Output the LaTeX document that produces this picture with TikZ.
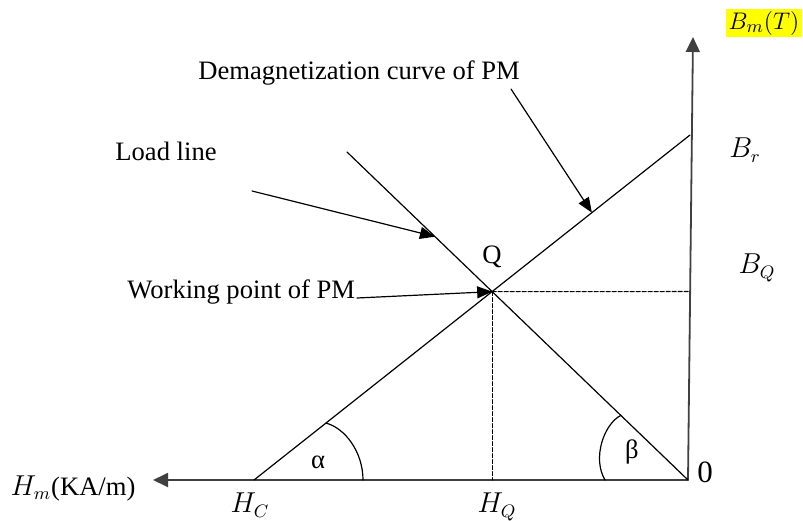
\documentclass[tikz,border=0pt]{standalone}
\usepackage{fontspec}
\setmainfont{Liberation Serif}
\usetikzlibrary{arrows.meta,calc}
\definecolor{hilite}{HTML}{FFFF00}
\definecolor{axisgray}{HTML}{404040}
\tikzset{
every picture/.style={line cap=round,line join=round},
axis line/.style={
  draw=axisgray,
  line width=0.9pt,
  -{Triangle[length=7.5pt,width=7pt]}
},
curve line/.style={draw=black, line width=0.6pt},
pointer/.style={
  draw=black,
  line width=0.6pt,
  -{Triangle[length=7.5pt,width=6pt]}
},
guide line/.style={draw=black, line width=0.6pt, dash pattern=on 2pt off 1pt},
fig label/.style={font=\fontsize{13.3}{16}\selectfont, text=black, inner sep=1pt},
}
\begin{document}
\begin{tikzpicture}[x=0.5pt,y=-0.5pt]
\useasboundingbox (0,0) rectangle (803,520);
% axes
\coordinate (O) at (688,480);
\coordinate (Htip) at (153,480);
\coordinate (Btip) at (693,37);
\draw[axis line] (O) -- (Htip);
\draw[axis line] (O) -- (Btip);
% demagnetization curve and load line
\coordinate (HC) at (254,480);
\coordinate (BrEnd) at (690,135);
\coordinate (LLtop) at (347,152);
\draw[curve line] (HC) -- (BrEnd);
\draw[curve line] (LLtop) -- (O);
\coordinate (Q) at (intersection of HC--BrEnd and LLtop--O);
\coordinate (Qright) at ($(Q)+(300,0)$);
\coordinate (BQfoot) at (intersection of O--Btip and Q--Qright);
\coordinate (HQfoot) at (Q |- O);
\draw[guide line] (Q) -- (BQfoot);
\draw[guide line] (Q) -- (HQfoot);
% angles
\draw[curve line] ($(HC)!0.165!(BrEnd)$) .. controls (345,428) and (363,452) .. ($(HC)+(109,0)$);
\draw[curve line] ($(O)!0.197!(LLtop)$) .. controls (604,424) and (592,458) .. ($(O)+(-83,0)$);
\node[fig label] (alpha) at (318,462) {α};
\node[fig label] (beta) at (632,452) {β};
% pointers
\coordinate (demagTail) at (511,89);
\coordinate (loadTail) at (252,191);
\coordinate (workTail) at (357,298);
\draw[pointer] (demagTail) -- ($(HC)!0.775!(BrEnd)$);
\draw[pointer] (loadTail) -- ($(LLtop)!0.258!(O)$);
\draw[pointer] (workTail) -- (Q);
% labels
\node[fig label,anchor=base west] (demag) at (196,79) {Demagnetization curve of PM};
\node[fig label,anchor=base west] (load) at (113,160) {Load line};
\node[fig label,anchor=base west] (work) at (125,298) {Working point of PM};
\node[fig label] (qlab) at (492,257) {Q};
\node[fig label] (br) at (745,150) {$B_r$};
\node[fig label] (bq) at (757,268) {$B_Q$};
\node[fig label,font=\fontsize{15.5}{18}\selectfont] (zero) at (705,472) {0};
\node[fig label] (hc) at (250,505) {$H_C$};
\node[fig label] (hq) at (497,507) {$H_Q$};
\node[fig label] (hm) at (73,488) {$H_m$(KA/m)};
\node[fig label,font=\fontsize{12.5}{15}\selectfont,anchor=east,fill=hilite,inner sep=1.2pt] (bm) at (802,23) {$B_m(T)$};
\end{tikzpicture}
\end{document}
